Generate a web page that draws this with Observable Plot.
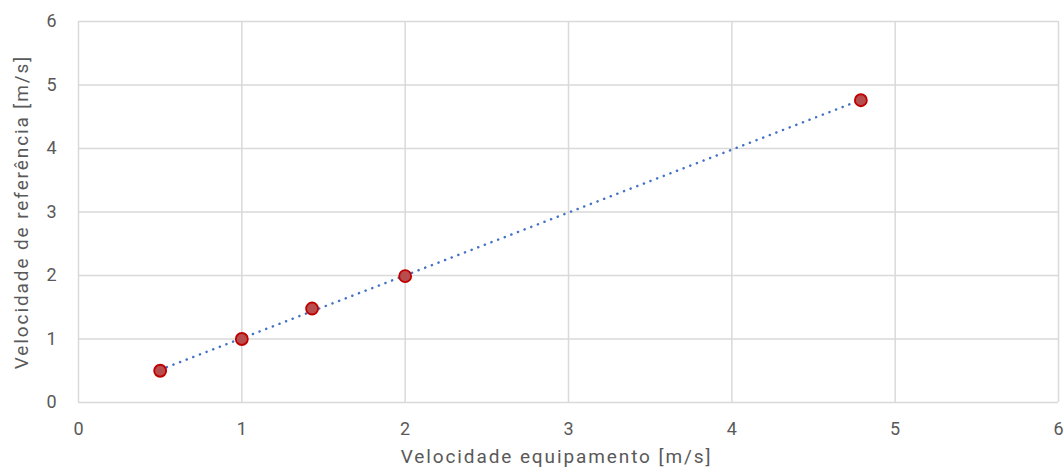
<!DOCTYPE html>
<html>
<head>
<meta charset="utf-8">
<script src="https://cdn.jsdelivr.net/npm/d3@7"></script>
<script src="https://cdn.jsdelivr.net/npm/@observablehq/plot@0.6"></script>
<style>
  html, body { margin: 0; padding: 0; background: #fff; }
  #chart { width: 1064px; height: 471px; }
  g[aria-label="text"] text { letter-spacing: 1.9px; }
</style>
</head>
<body>
<div id="chart"></div>
<script>
const equipamento = [0.5, 1.0, 1.43, 2.0, 4.79];
const referencia = [0.5, 1.0, 1.48, 1.99, 4.76];
const xTicks = [0, 1, 2, 3, 4, 5, 6];
const yTicks = [0, 1, 2, 3, 4, 5, 6];
const xLabel = "Velocidade equipamento [m/s]";
const yLabel = "Velocidade de referência [m/s]";

const data = equipamento.map((x, i) => ({x, y: referencia[i]}));

const chart = Plot.plot({
  width: 1064,
  height: 471,
  marginLeft: 78,
  marginRight: 6,
  marginTop: 21,
  marginBottom: 69,
  style: {fontFamily: "Roboto, 'DejaVu Sans', sans-serif", fontSize: "18px", color: "#595959", background: "#fff"},
  x: {domain: [0, 6]},
  y: {domain: [0, 6]},
  marks: [
    Plot.gridX(xTicks, {stroke: "#d9d9d9", strokeOpacity: 1, strokeWidth: 1.5}),
    Plot.gridY(yTicks, {stroke: "#d9d9d9", strokeOpacity: 1, strokeWidth: 1.5}),
    Plot.axisX(xTicks, {tickSize: 0, tickPadding: 20, fontSize: 18, fill: "#595959", tickFormat: "d", label: null}),
    Plot.axisY(yTicks, {tickSize: 0, tickPadding: 22, fontSize: 18, fill: "#595959", tickFormat: "d", label: null}),
    Plot.text([xLabel], {text: d => d, frameAnchor: "bottom", textAnchor: "middle", lineAnchor: "middle",
      dy: 54, dx: -12, fontSize: 19, fill: "#595959"}),
    Plot.text([yLabel], {text: d => d, frameAnchor: "left", textAnchor: "middle", lineAnchor: "middle",
      dx: -57, rotate: -90, fontSize: 19, fill: "#595959"}),
    Plot.linearRegressionY(data, {x: "x", y: "y", ci: 0, stroke: "#4472C4", strokeWidth: 2.5,
      strokeDasharray: "0.1,7", strokeLinecap: "round"}),
    Plot.dot(data, {x: "x", y: "y", r: 6, fill: "#b84d4d", stroke: "#c00000", strokeWidth: 1.8})
  ]
});
document.getElementById("chart").appendChild(chart);
</script>
</body>
</html>
